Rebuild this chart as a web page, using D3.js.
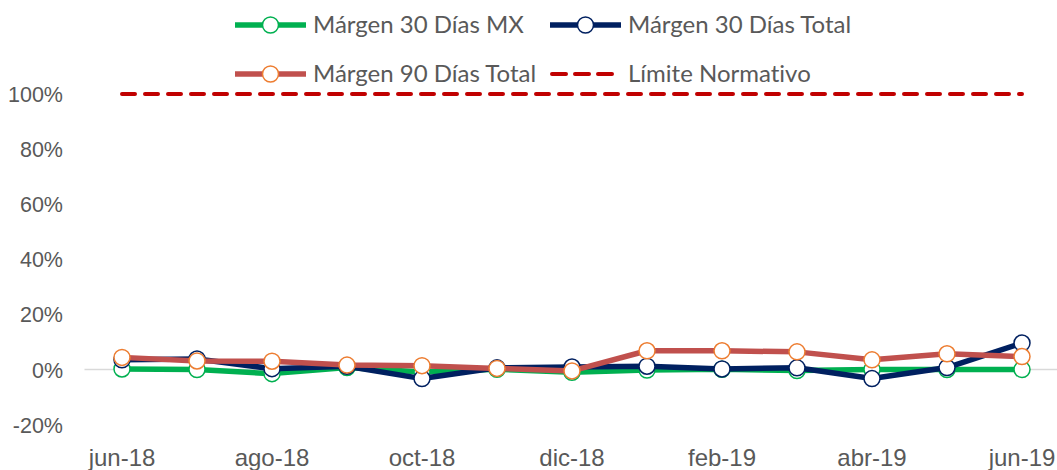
<!DOCTYPE html>
<html>
<head>
<meta charset="utf-8">
<script src="https://cdn.jsdelivr.net/npm/d3@7"></script>
<style>
  body { margin: 0; background: #fff; }
  svg { display: block; font-family: Lato, 'Open Sans', sans-serif; font-variant-ligatures: none; }
  .tick text { fill: #595959; }
</style>
</head>
<body>
<script>
var width = 1057;
var height = 470;

var months = ['jun-18', 'jul-18', 'ago-18', 'sep-18', 'oct-18', 'nov-18', 'dic-18',
              'ene-19', 'feb-19', 'mar-19', 'abr-19', 'may-19', 'jun-19'];
var shownMonths = ['jun-18', 'ago-18', 'oct-18', 'dic-18', 'feb-19', 'abr-19', 'jun-19'];
var yTicks = [-20, 0, 20, 40, 60, 80, 100];

var margen30MX    = [0.2, 0, -1.5, 0.7, -0.9, 0.1, -1, -0.2, 0.1, -0.4, 0, 0, 0];
var margen30Total = [3.5, 3.8, 0.3, 1.2, -3.3, 0.6, 0.9, 1.2, 0.2, 0.6, -3.3, 0.7, 9.6];
var margen90Total = [4.4, 3.1, 3.0, 1.6, 1.4, 0.4, -0.5, 6.8, 6.8, 6.4, 3.5, 5.7, 4.7];
var limite        = [100, 100, 100, 100, 100, 100, 100, 100, 100, 100, 100, 100, 100];

var series = [
  {name: 'Márgen 30 Días MX', values: margen30MX, color: '#00B050', marker: '#00B050'},
  {name: 'Márgen 30 Días Total', values: margen30Total, color: '#002060', marker: '#002060'},
  {name: 'Márgen 90 Días Total', values: margen90Total, color: '#C0504D', marker: '#ED7D31'},
  {name: 'Límite Normativo', values: limite, color: '#C00000', dashed: true}
];

var svg = d3.select('body').append('svg')
            .attr('width', width)
            .attr('height', height);

var x = d3.scaleBand().domain(months).range([84.5, 1059.5]);
var y = d3.scaleLinear().domain([-20, 100]).range([424.6, 94]);
var cx = function(m) { return x(m) + x.bandwidth() / 2; };

// y axis labels only
svg.append('g')
   .attr('transform', 'translate(63,0)')
   .call(d3.axisLeft(y).tickValues(yTicks).tickSize(0).tickPadding(0)
           .tickFormat(function(d) { return d + '%'; }))
   .call(function(g) { g.select('.domain').remove(); })
   .selectAll('text')
     .style('font-size', '21.5px')
     .attr('dy', '0.35em');

// zero line (category axis)
svg.append('line')
   .attr('x1', 84.5).attr('x2', 1059.5)
   .attr('y1', y(0)).attr('y2', y(0))
   .attr('stroke', '#D9D9D9')
   .attr('stroke-width', 1.5);

// x axis labels
svg.append('g')
   .attr('transform', 'translate(0,' + 449 + ')')
   .call(d3.axisBottom(x).tickValues(shownMonths).tickSize(0).tickPadding(0))
   .call(function(g) { g.select('.domain').remove(); })
   .selectAll('text')
     .style('font-size', '24px')
     .attr('dy', '0.71em');

var line = d3.line()
             .x(function(d, i) { return cx(months[i]); })
             .y(function(d) { return y(d); });

series.forEach(function(s) {
  var g = svg.append('g');
  g.append('path')
   .attr('d', line(s.values))
   .attr('fill', 'none')
   .attr('stroke', s.color)
   .attr('stroke-width', s.dashed ? 4 : 5.5)
   .attr('stroke-linejoin', 'round')
   .attr('stroke-linecap', s.dashed ? 'round' : 'butt')
   .attr('stroke-dasharray', s.dashed ? '13,10' : null);
  if (!s.dashed) {
    g.selectAll('circle').data(s.values)
     .enter().append('circle')
       .attr('cx', function(d, i) { return cx(months[i]); })
       .attr('cy', function(d) { return y(d); })
       .attr('r', 8)
       .attr('fill', '#fff')
       .attr('stroke', s.marker)
       .attr('stroke-width', 1.5);
  }
});

// legend
var legendPos = [
  {x: 235, y: 25}, {x: 550, y: 25},
  {x: 235, y: 74}, {x: 550, y: 74}
];

var legend = svg.append('g').attr('class', 'legend');
series.forEach(function(s, i) {
  var p = legendPos[i];
  var item = legend.append('g').attr('transform', 'translate(' + p.x + ',' + p.y + ')');
  if (s.dashed) {
    item.append('line')
        .attr('x1', 2).attr('x2', 62)
        .attr('stroke', s.color)
        .attr('stroke-width', 4)
        .attr('stroke-linecap', 'round')
        .attr('stroke-dasharray', '14,9');
  } else {
    item.append('line')
        .attr('x1', 0).attr('x2', 71)
        .attr('stroke', s.color)
        .attr('stroke-width', 5.5);
    item.append('circle')
        .attr('cx', 35.5)
        .attr('r', 8)
        .attr('fill', '#fff')
        .attr('stroke', s.marker)
        .attr('stroke-width', 1.5);
  }
  item.append('text')
      .attr('x', 78)
      .attr('dy', '0.35em')
      .attr('fill', '#595959')
      .style('font-size', '24px')
      .text(s.name);
});
</script>
</body>
</html>
